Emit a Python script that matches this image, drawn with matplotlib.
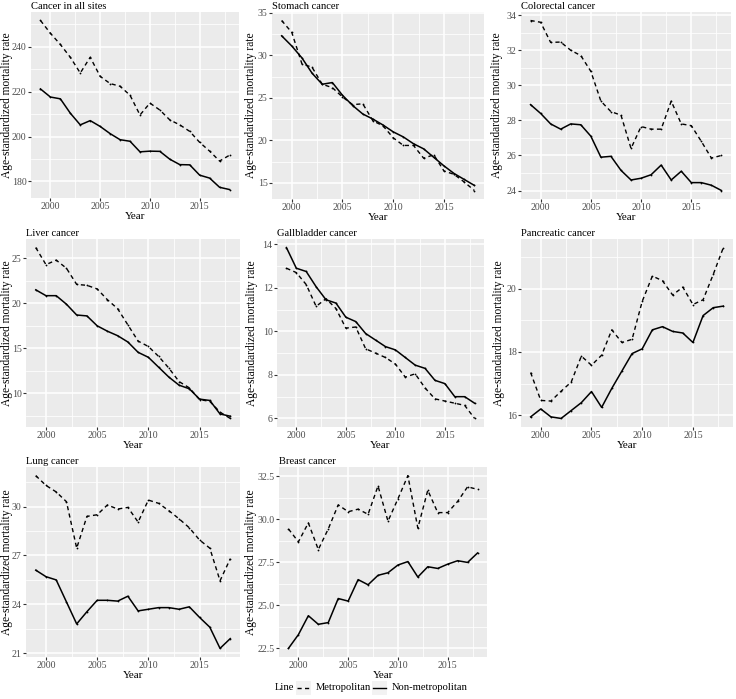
import numpy as np
import matplotlib.pyplot as plt
from matplotlib.patches import Rectangle
from matplotlib.lines import Line2D
from matplotlib.ticker import MultipleLocator, FormatStrFormatter

plt.rcParams['font.family'] = ['Liberation Serif', 'DejaVu Serif']

years = np.arange(1999, 2019)

titles = ["Cancer in all sites", "Stomach cancer", "Colorectal cancer",
          "Liver cancer", "Gallbladder cancer", "Pancreatic cancer",
          "Lung cancer", "Breast cancer"]

# Metropolitan (dashed)
metro_all = [251.7, 246.0, 241.0, 235.3, 228.3, 235.3, 226.8, 223.6, 222.4, 218.4,
             209.6, 214.9, 211.8, 207.4, 205.2, 202.3, 197.4, 193.5, 189.1, 191.7]
metro_stomach = [34.1, 32.7, 29.0, 28.6, 26.6, 26.2, 25.1, 24.2, 24.3, 22.3,
                 21.7, 20.3, 19.4, 19.4, 17.9, 18.3, 16.4, 16.0, 15.1, 14.1]
metro_colorectal = [33.7, 33.6, 32.45, 32.47, 32.0, 31.7, 30.8, 29.1, 28.5, 28.3,
                    26.4, 27.65, 27.5, 27.5, 29.1, 27.8, 27.7, 26.8, 25.85, 26.0]
metro_liver = [26.2, 24.3, 24.8, 23.9, 22.1, 22.0, 21.6, 20.4, 19.4, 17.6,
               15.8, 15.2, 14.1, 12.8, 11.3, 10.6, 9.3, 9.1, 7.9, 7.2]
metro_gallbladder = [12.9, 12.7, 12.15, 11.15, 11.5, 11.05, 10.15, 10.2, 9.2, 9.0,
                     8.8, 8.5, 7.9, 8.05, 7.4, 6.9, 6.8, 6.7, 6.6, 6.0]
metro_pancreatic = [17.35, 16.47, 16.45, 16.76, 17.05, 17.87, 17.58, 17.9, 18.7, 18.3,
                    18.4, 19.6, 20.4, 20.25, 19.8, 20.05, 19.5, 19.65, 20.45, 21.3]
metro_lung = [31.9, 31.3, 30.9, 30.3, 27.45, 29.4, 29.5, 30.1, 29.85, 29.95,
              29.05, 30.4, 30.2, 29.75, 29.25, 28.7, 27.95, 27.45, 25.45, 26.8]
metro_breast = [29.45, 28.7, 29.8, 28.25, 29.45, 30.85, 30.45, 30.6, 30.3, 31.95,
                29.9, 31.2, 32.55, 29.5, 31.7, 30.4, 30.4, 31.05, 31.9, 31.75]

# Non-metropolitan (solid)
non_all = [221.2, 217.6, 216.8, 210.4, 205.2, 207.1, 204.5, 201.3, 198.6, 197.9,
           193.2, 193.5, 193.4, 189.9, 187.5, 187.4, 182.8, 181.5, 177.4, 176.4]
non_stomach = [32.3, 31.1, 29.7, 27.9, 26.6, 26.8, 25.3, 24.1, 23.1, 22.5,
               21.8, 21.0, 20.4, 19.6, 19.0, 18.0, 17.0, 16.1, 15.4, 14.7]
non_colorectal = [28.9, 28.4, 27.8, 27.5, 27.8, 27.75, 27.1, 25.9, 25.95, 25.15,
                  24.6, 24.7, 24.9, 25.45, 24.6, 25.1, 24.45, 24.45, 24.3, 24.0]
non_liver = [21.5, 20.85, 20.85, 19.9, 18.7, 18.6, 17.5, 16.9, 16.4, 15.7,
             14.55, 14.0, 12.9, 11.8, 10.9, 10.5, 9.35, 9.2, 7.7, 7.45]
non_gallbladder = [13.85, 12.9, 12.75, 12.05, 11.45, 11.3, 10.65, 10.45, 9.9, 9.6,
                   9.3, 9.15, 8.8, 8.45, 8.3, 7.75, 7.6, 7.0, 7.0, 6.7]
non_pancreatic = [15.95, 16.2, 15.95, 15.9, 16.15, 16.4, 16.75, 16.25, 16.85, 17.4,
                  17.95, 18.1, 18.7, 18.8, 18.65, 18.6, 18.3, 19.15, 19.4, 19.45]
non_lung = [26.1, 25.7, 25.5, 24.15, 22.8, 23.55, 24.25, 24.25, 24.2, 24.5,
            23.6, 23.7, 23.8, 23.8, 23.7, 23.85, 23.2, 22.6, 21.3, 21.9]
non_breast = [22.5, 23.3, 24.4, 23.9, 24.0, 25.4, 25.25, 26.5, 26.2, 26.75,
              26.9, 27.35, 27.55, 26.65, 27.25, 27.15, 27.4, 27.6, 27.5, 28.05]

metro = [metro_all, metro_stomach, metro_colorectal, metro_liver,
         metro_gallbladder, metro_pancreatic, metro_lung, metro_breast]
nonmetro = [non_all, non_stomach, non_colorectal, non_liver,
            non_gallbladder, non_pancreatic, non_lung, non_breast]

# y tick step per panel
y_steps = [20, 5, 2, 5, 2, 2, 3, 2.5]

W, H = 736, 699
# panel boxes in pixels: left, right, top, bottom
boxes = [(31, 239, 12, 198), (272, 484, 12, 199), (521, 731, 12, 199),
         (26, 240, 239, 427), (277, 484, 239, 427), (521, 733, 239, 427),
         (26, 240, 467, 657), (279, 487, 467, 657)]
# right edge (px) of the rotated y label
ylab_x = [13, 257, 503, 13, 258, 505, 13, 257]

BG = '#EBEBEB'
DASH = (3.0, 2.4)

fig = plt.figure(figsize=(W / 100, H / 100), dpi=100)

for i in range(8):
    l, r, t, b = boxes[i]
    ax = fig.add_axes([l / W, 1 - b / H, (r - l) / W, (b - t) / H])
    ax.set_facecolor(BG)
    for s in ax.spines.values():
        s.set_visible(False)

    ax.plot(years, metro[i], color='black', lw=1.0, ls=(0, DASH))
    ax.plot(years, nonmetro[i], color='black', lw=1.1)
    ax.plot(years, metro[i], 'o', color='black', ms=1.3, mew=0)
    ax.plot(years, nonmetro[i], 'o', color='black', ms=1.3, mew=0)

    ax.set_xlim(1998.05, 2018.95)
    ax.margins(y=0.05)
    step = y_steps[i]
    ax.yaxis.set_major_locator(MultipleLocator(step))
    ax.yaxis.set_minor_locator(MultipleLocator(step / 2))
    ax.xaxis.set_major_locator(MultipleLocator(5))
    ax.xaxis.set_minor_locator(MultipleLocator(2.5))
    if i == 7:
        ax.yaxis.set_major_formatter(FormatStrFormatter('%.1f'))

    ax.grid(which='major', color='white', lw=1.1)
    ax.grid(which='minor', color='white', lw=0.55)
    ax.set_axisbelow(True)
    ax.tick_params(which='major', length=2.2, width=0.8, color='#333333',
                   labelcolor='#4D4D4D', labelsize=7.1, pad=1.0)
    ax.tick_params(which='minor', length=0)

    ax.set_xlabel('Year', fontsize=8, labelpad=0.5)
    ax.set_ylabel('Age-standardized mortality rate', fontsize=8.3)
    ax.yaxis.set_label_coords((ylab_x[i] - l) / (r - l), 0.5)
    ax.set_title(titles[i], loc='left', fontsize=7.6, pad=2)

# legend drawn at the bottom
ly = 1 - 688 / H
fig.text(275 / W, ly, 'Line', fontsize=7.6, va='center', ha='left')
keys = [(296, 'Metropolitan', (0, DASH)), (372, 'Non-metropolitan', '-')]
for kx, lab, ls in keys:
    fig.patches.append(Rectangle((kx / W, ly - 7 / H), 15 / W, 14 / H,
                                 transform=fig.transFigure, facecolor='#F2F2F2',
                                 edgecolor='none'))
    fig.lines.append(Line2D([(kx + 1) / W, (kx + 14) / W], [ly, ly],
                            transform=fig.transFigure, color='black',
                            lw=1.0, ls=ls))
    fig.text((kx + 20) / W, ly, lab, fontsize=7.6, va='center', ha='left')

plt.savefig('out.png', dpi=100)
